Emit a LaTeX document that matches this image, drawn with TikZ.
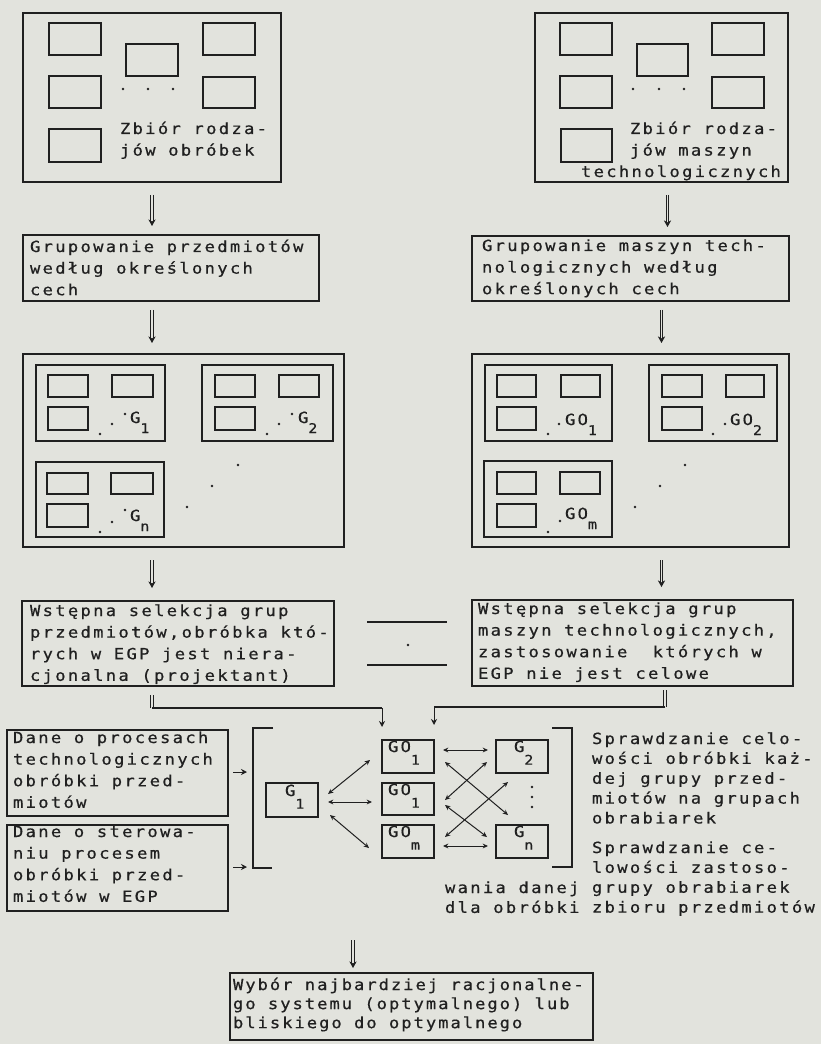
\documentclass[tikz,border=0pt]{standalone}
\usepackage{fontspec}
\usetikzlibrary{arrows.meta,fit,calc}
\definecolor{paper}{RGB}{226,227,221}
\definecolor{ink}{RGB}{32,32,32}

\newfontfamily\mono[FakeStretch=1.12, LetterSpace=15, FakeBold=0.6]{DejaVu Sans Mono}
\newfontfamily\monob[FakeStretch=1.12, LetterSpace=12.8, FakeBold=0.6]{DejaVu Sans Mono}
\newcommand\txtA{\mono\fontsize{11.5}{16.2}\selectfont}
\newcommand\txtC{\mono\fontsize{11.5}{14.9}\selectfont}
\newcommand\txtD{\monob\fontsize{11.5}{14.3}\selectfont}
\newcommand\lns[1]{\begin{tabular}[t]{@{}l@{}}#1\end{tabular}}
\newcommand\sub[1]{\raisebox{-7.5pt}{\fontsize{10}{10}\selectfont#1}}
\newcommand\subb[1]{\raisebox{-9.5pt}{\fontsize{10}{10}\selectfont#1}}
% rectangle node spanning two corners (pixel-like units)
\newcommand\bx[5]{\node[frame,fit={(#2,#3)(#4,#5)}] (#1) {};}

\tikzset{
  frame/.style={draw=ink, line width=0.95pt, inner sep=0pt, outer sep=0pt},
  txt/.style={anchor=base west, inner sep=0pt, outer sep=0pt, text=ink},
  dblarrow/.style={draw=ink, double=paper, double distance=1.1pt, line width=0.6pt,
                   -{Stealth[length=5pt,width=5.5pt]}},
  dblline/.style={draw=ink, double=paper, double distance=1.1pt, line width=0.6pt},
  mergeline/.style={draw=ink, line width=1.6pt},
  thinarrow/.style={draw=ink, line width=0.7pt, -{Stealth[length=4.5pt,width=4.5pt]}},
  biarrow/.style={draw=ink, line width=0.75pt, {Stealth[length=4pt,width=3.6pt]}-{Stealth[length=4pt,width=3.6pt]}},
  plain/.style={draw=ink, line width=0.95pt},
}

\begin{document}
\begin{tikzpicture}[x=0.75pt,y=-0.75pt]
\fill[paper] (0,0) rectangle (821,1044);
\useasboundingbox (0,0) rectangle (821,1044);

% ---------- set of workpiece kinds ----------
\bx{setA}{23}{13}{281}{182}
\bx{setA1}{49}{23}{101}{55}
\bx{setA2}{126}{44}{178}{76}
\bx{setA3}{203}{23}{255}{55}
\bx{setA4}{49}{76}{101}{108}
\bx{setA5}{203}{77}{255}{108}
\bx{setA6}{49}{129}{101}{162}
\foreach \x in {123,148,173} \fill[ink] (\x,89) circle[radius=1.1pt];
\node[txt,font=\txtA] (setAtxt) at (120,134) {\lns{Zbiór rodza-\\jów obróbek}};

% ---------- set of machine kinds ----------
\bx{setB}{535}{13}{788}{182}
\bx{setB1}{560}{23}{612}{55}
\bx{setB2}{637}{44}{688}{76}
\bx{setB3}{712}{23}{764}{55}
\bx{setB4}{560}{76}{612}{108}
\bx{setB5}{712}{77}{764}{108}
\bx{setB6}{561}{129}{612}{162}
\foreach \x in {633,659,684} \fill[ink] (\x,89) circle[radius=1.1pt];
\node[txt,font=\txtA] (setBtxt) at (630,134) {\lns{Zbiór rodza-\\jów maszyn}};
\node[txt,font=\txtA] (setBtxt2) at (581,177) {technologicznych};

% ---------- grouping ----------
\bx{grpA}{23}{235}{319}{301}
\node[txt,font=\txtA] (grpAtxt) at (30,252) {\lns{Grupowanie przedmiotów\\według określonych\\cech}};
\bx{grpB}{472}{236}{789}{301}
\node[txt,font=\txtA] (grpBtxt) at (482,251) {\lns{Grupowanie maszyn tech-\\nologicznych według\\określonych cech}};

% ---------- workpiece groups ----------
\bx{grA}{23}{354}{344}{547}
\bx{gA1}{36}{365}{165}{441}
\bx{gA1a}{48}{375}{88}{397}
\bx{gA1b}{112}{375}{153}{397}
\bx{gA1c}{48}{407}{88}{430}
\foreach \p in {(100,434),(112,424),(125,414)} \fill[ink] \p circle[radius=1.1pt];
\node[txt,font=\txtA] (lA1) at (130,423) {G\sub{1}};
\bx{gA2}{202}{365}{333}{441}
\bx{gA2a}{215}{375}{255}{397}
\bx{gA2b}{279}{375}{319}{397}
\bx{gA2c}{215}{407}{255}{430}
\foreach \p in {(267,434),(279,424),(292,414)} \fill[ink] \p circle[radius=1.1pt];
\node[txt,font=\txtA] (lA2) at (298,423) {G\sub{2}};
\bx{gAn}{36}{462}{164}{537}
\bx{gAna}{47}{473}{88}{494}
\bx{gAnb}{111}{473}{153}{494}
\bx{gAnc}{47}{504}{88}{527}
\foreach \p in {(100,532),(112,522),(125,510)} \fill[ink] \p circle[radius=1.1pt];
\node[txt,font=\txtA] (lAn) at (130,521) {G\sub{n}};
\foreach \p in {(238,465),(212,486),(187,507)} \fill[ink] \p circle[radius=1.1pt];

% ---------- machine groups ----------
\bx{grB}{472}{354}{789}{547}
\bx{gB1}{485}{365}{612}{441}
\bx{gB1a}{497}{375}{536}{397}
\bx{gB1b}{561}{375}{600}{397}
\bx{gB1c}{497}{407}{536}{430}
\foreach \p in {(548,434),(559,424)} \fill[ink] \p circle[radius=1.1pt];
\node[txt,font=\txtA] (lB1) at (565,425) {GO\sub{1}};
\bx{gB2}{649}{365}{777}{441}
\bx{gB2a}{662}{375}{702}{397}
\bx{gB2b}{726}{375}{764}{397}
\bx{gB2c}{662}{407}{702}{430}
\foreach \p in {(713,434),(725,424)} \fill[ink] \p circle[radius=1.1pt];
\node[txt,font=\txtA] (lB2) at (730,425) {GO\sub{2}};
\bx{gBm}{484}{461}{612}{537}
\bx{gBma}{497}{472}{536}{494}
\bx{gBmb}{560}{472}{600}{494}
\bx{gBmc}{497}{504}{536}{527}
\foreach \p in {(548,532),(560,521)} \fill[ink] \p circle[radius=1.1pt];
\node[txt,font=\txtA] (lBm) at (565,519) {GO\sub{m}};
\foreach \p in {(685,465),(660,486),(635,507)} \fill[ink] \p circle[radius=1.1pt];

% ---------- preliminary selection ----------
\bx{selA}{22}{601}{334}{686}
\node[txt,font=\txtA] (selAtxt) at (30,616) {\lns{Wstępna selekcja grup\\przedmiotów,obróbka któ-\\rych w EGP jest niera-\\cjonalna (projektant)}};
\bx{selB}{472}{600}{793}{686}
\node[txt,font=\txtA] (selBtxt) at (478,614) {\lns{Wstępna selekcja grup\\maszyn technologicznych,\\zastosowanie\ \ których w\\EGP nie jest celowe}};
\draw[plain] (367,622) -- (447,622);
\draw[plain] (367,665) -- (447,665);
\fill[ink] (408,645) circle[radius=1.1pt];

% ---------- vertical flow arrows ----------
\draw[dblarrow, shorten <=9.75pt, shorten >=6.75pt] (setA.south) -- (setA.south |- grpA.north);
\draw[dblarrow, shorten <=6.75pt, shorten >=8.25pt] (grpA.south -| setA.south) -- (grA.north -| setA.south);
\draw[dblarrow, shorten <=9.75pt, shorten >=9.75pt] (grA.south -| setA.south) -- (selA.north -| setA.south);
\draw[dblarrow, shorten <=9.75pt, shorten >=6.75pt] ([xshift=4.5pt]setB.south) -- ([xshift=4.5pt]setB.south |- grpB.north);
\draw[dblarrow, shorten <=6.75pt, shorten >=8.25pt] (grpB.south -| setB.south) -- (grB.north -| setB.south);
\draw[dblarrow, shorten <=9.75pt, shorten >=9.75pt] (grB.south -| setB.south) -- (selB.north -| setB.south);

% ---------- input data ----------
\bx{dane1}{7}{730}{228}{816}
\node[txt,font=\txtA] (d1txt) at (13,743) {\lns{Dane o procesach\\technologicznych\\obróbki przed-\\miotów}};
\bx{dane2}{7}{825}{228}{911}
\node[txt,font=\txtA] (d2txt) at (13,837) {\lns{Dane o sterowa-\\niu procesem\\obróbki przed-\\miotów w EGP}};

% ---------- comparison block ----------
\coordinate (brLt) at (253,728);
\coordinate (brLb) at (253,868);
\coordinate (brRt) at (572,728);
\coordinate (brRb) at (572,867);
\draw[plain] ($(brLt)+(20,0)$) -- (brLt) -- (brLb) -- ($(brLb)+(19,0)$);
\draw[plain] ($(brRt)+(-20,0)$) -- (brRt) -- (brRb) -- ($(brRb)+(-20,0)$);

\bx{G1}{266}{783}{318}{817}
\bx{GOa}{382}{740}{434}{773}
\bx{GOb}{382}{783}{434}{815}
\bx{GOm}{382}{825}{434}{858}
\bx{G2}{496}{740}{548}{773}
\bx{Gn}{496}{825}{548}{858}
\node[txt,font=\txtA] (lG1) at (285,796) {G\subb{1}};
\node[txt,font=\txtA] (lGOa) at (388,752) {GO\subb{1}};
\node[txt,font=\txtA] (lGOb) at (388,795) {GO\subb{1}};
\node[txt,font=\txtA] (lGOm) at (388,837) {GO\subb{m}};
\node[txt,font=\txtA] (lG2) at (514,752) {G\subb{2}};
\node[txt,font=\txtA] (lGn) at (514,837) {G\subb{n}};
\foreach \y in {787,797,807} \fill[ink] (532,\y) circle[radius=1pt];

\draw[biarrow] ($(G1.east)+(10,-6)$) -- ($(GOa.south west)+(-12,-13)$);
\draw[biarrow] ($(G1.east)+(10,2)$) -- ($(G1.east -| GOb.west)+(-10,2)$);
\draw[biarrow] ($(G1.east)+(12,15)$) -- ($(GOm.west)+(-13,6.5)$);
\draw[biarrow] ($(GOa.east)+(9,-6.5)$) -- ($(G2.west)+(-8,-6.5)$);
\draw[biarrow] ($(GOm.east)+(9,4.5)$) -- ($(Gn.west)+(-8,4.5)$);
\draw[biarrow] ($(GOa.east)+(11,5.5)$) -- ($(Gn.north west)+(12,-10)$);
\draw[biarrow] ($(G2.west)+(-9,5.5)$) -- ($(GOb.east)+(11,1)$);
\draw[biarrow] ($(GOb.east)+(11,6)$) -- ($(Gn.west)+(-9,-4.5)$);
\draw[biarrow] ($(G2.south west)+(12,9)$) -- ($(GOm.east)+(11,-4.5)$);

\draw[thinarrow] ($(dane1.east)+(5,-1)$) -- ($(dane1.east -| brLt)+(-6,-1)$);
\draw[thinarrow] ($(dane2.east)+(5,-1)$) -- ($(dane2.east -| brLt)+(-6,-1)$);

% ---------- merging the two selections ----------
\coordinate (jL) at (152,708);
\coordinate (jR) at (665,707);
\draw[dblline] ($(selA.south -| jL)+(0,9)$) -- (jL);
\draw[mergeline] (jL) -- (jL -| GOa.west);
\draw[thinarrow] (jL -| GOa.west) -- ($(GOa.north west)+(0,-13)$);
\draw[dblline] ($(selB.south -| jR)+(0,4)$) -- (jR);
\draw[mergeline] (jR) -- (jR -| GOa.east);
\draw[thinarrow] (jR -| GOa.east) -- ($(GOa.north east)+(0,-15)$);

% ---------- notes ----------
\node[txt,font=\txtC] (note1) at (592,744) {\lns{Sprawdzanie celo-\\wości obróbki każ-\\dej grupy przed-\\miotów na grupach\\obrabiarek}};
\node[txt,font=\txtC] (note2) at (592,853) {\lns{Sprawdzanie ce-\\lowości zastoso-\\grupy obrabiarek\\zbioru przedmiotów}};
\node[txt,font=\txtC] (note3) at (445,893) {\lns{wania danej\\dla obróbki}};

% ---------- final choice ----------
\bx{fin}{230}{973}{593}{1040}
\node[txt,font=\txtD] (fintxt) at (233,990) {\lns{Wybór najbardziej racjonalne-\\go systemu (optymalnego) lub\\bliskiego do optymalnego}};
\coordinate (cmpOut) at (353,940);
\draw[dblarrow, shorten >=3.75pt] (cmpOut) -- (cmpOut |- fin.north);
\end{tikzpicture}
\end{document}
